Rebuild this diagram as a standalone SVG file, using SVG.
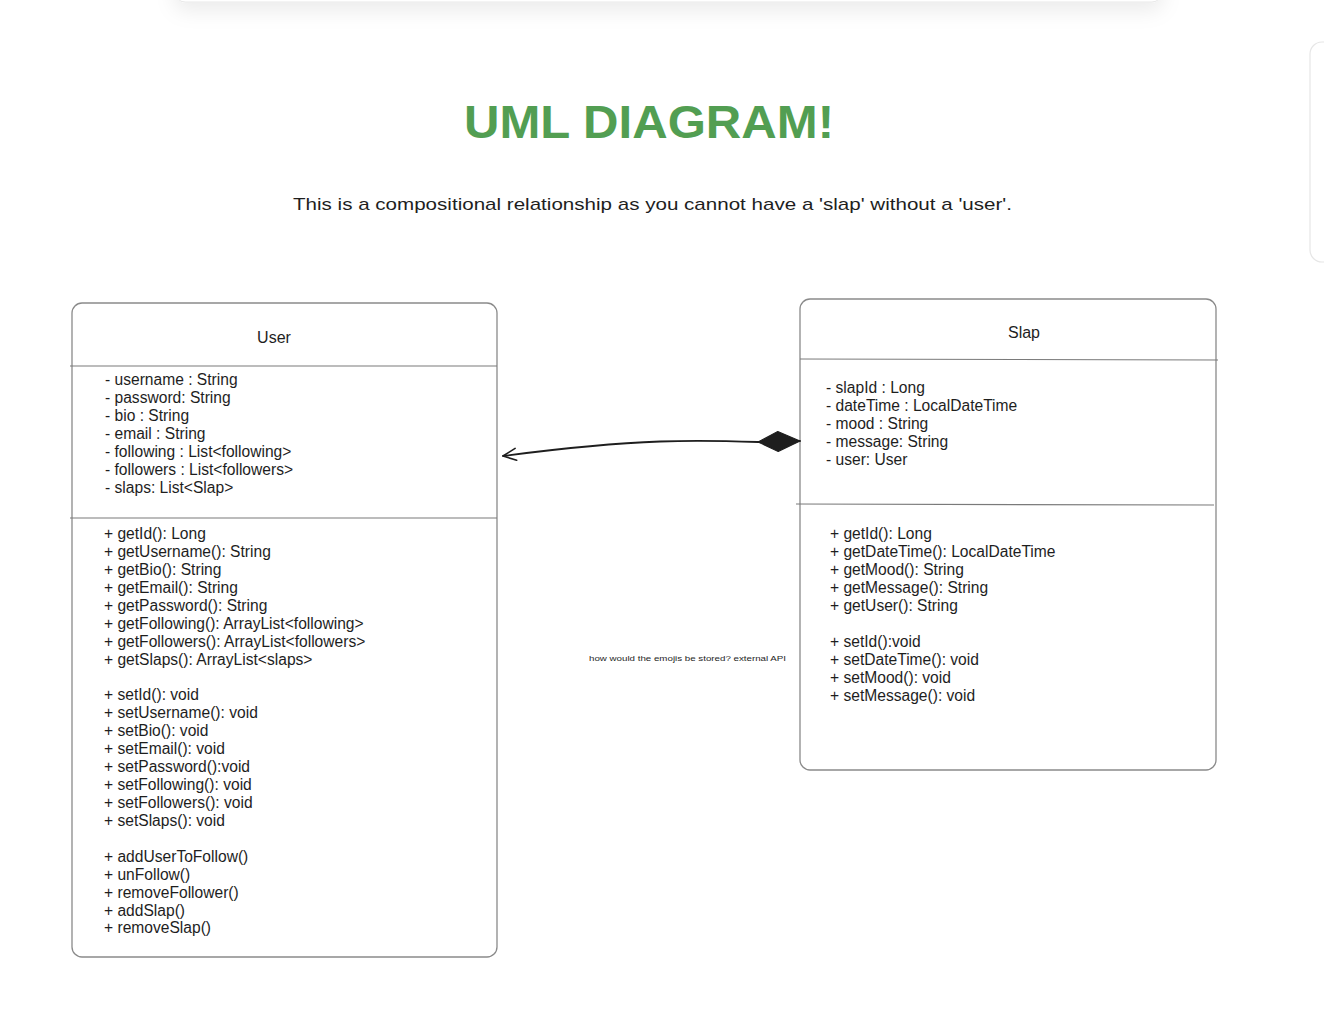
<svg xmlns="http://www.w3.org/2000/svg" width="1324" height="1014" viewBox="0 0 1324 1014">
<defs>
<filter id="sh" x="-10%" y="-100%" width="120%" height="400%">
<feDropShadow dx="0" dy="8" stdDeviation="10" flood-color="#000" flood-opacity="0.08"/>
</filter>
<marker id="open" markerWidth="16" markerHeight="16" refX="14" refY="8" orient="auto" markerUnits="userSpaceOnUse">
<path d="M1 2 L14 8 L1 14" fill="none" stroke="#1e1e1e" stroke-width="1.6" stroke-linecap="round" stroke-linejoin="round"/>
</marker>
<marker id="diamond" markerWidth="46" markerHeight="24" refX="44" refY="12" orient="auto-start-reverse" markerUnits="userSpaceOnUse">
<path d="M2 12 L22 2 L44 12 L22 22 Z" fill="#1e1e1e" stroke="#1e1e1e" stroke-width="1" stroke-linejoin="round"/>
</marker>
</defs>
<style>
.box{fill:#fff;stroke:#8a8a8a;stroke-width:1.3}
.div{stroke:#7a7a7a;stroke-width:1.2;fill:none}
.t{font-family:"Liberation Sans",Arial,sans-serif;font-size:15.6px;fill:#1e1e1e}
.hd{font-family:"Liberation Sans",Arial,sans-serif;font-size:16px;fill:#1e1e1e}
.ttl{font-family:"Liberation Sans Narrow","Liberation Sans",Arial,sans-serif;font-size:46px;font-weight:bold;fill:#529e52}
.sub{font-family:"Liberation Sans Narrow","Liberation Sans",Arial,sans-serif;font-size:17px;fill:#1e1e1e}
.note{font-family:"Liberation Sans",Arial,sans-serif;font-size:8px;fill:#1e1e1e}
</style>
<rect width="1324" height="1014" fill="#ffffff"/>
<g id="top-card">
<rect x="175" y="-30" width="987" height="32" rx="10" fill="#fff" stroke="#e8e8e8" stroke-width="1" filter="url(#sh)"/>
</g>
<g id="side-panel">
<rect x="1310" y="42" width="40" height="220" rx="12" fill="#fff" stroke="#e6e6e6" stroke-width="1.2"/>
</g>
<g id="title">
<text class="ttl" x="464" y="138" textLength="370" lengthAdjust="spacingAndGlyphs">UML DIAGRAM!</text>
</g>
<g id="subtitle">
<text class="sub" x="293" y="210" textLength="719" lengthAdjust="spacingAndGlyphs">This is a compositional relationship as you cannot have a 'slap' without a 'user'.</text>
</g>
<g id="note">
<text class="note" x="589" y="661" textLength="197" lengthAdjust="spacingAndGlyphs">how would the emojis be stored? external API</text>
</g>
<g id="User">
<rect class="box" x="72" y="303" width="425" height="654" rx="10"/>
<line class="div" x1="70" y1="366" x2="497" y2="366"/>
<line class="div" x1="70" y1="518" x2="497" y2="518"/>
<text class="hd" x="274" y="343" text-anchor="middle">User</text>
<text class="t" x="105" y="385">- username : String</text>
<text class="t" x="105" y="403">- password: String</text>
<text class="t" x="105" y="421">- bio : String</text>
<text class="t" x="105" y="439">- email : String</text>
<text class="t" x="105" y="457">- following : List&lt;following&gt;</text>
<text class="t" x="105" y="475">- followers : List&lt;followers&gt;</text>
<text class="t" x="105" y="493">- slaps: List&lt;Slap&gt;</text>
<text class="t" x="104" y="539">+ getId(): Long</text>
<text class="t" x="104" y="557">+ getUsername(): String</text>
<text class="t" x="104" y="575">+ getBio(): String</text>
<text class="t" x="104" y="593">+ getEmail(): String</text>
<text class="t" x="104" y="611">+ getPassword(): String</text>
<text class="t" x="104" y="629">+ getFollowing(): ArrayList&lt;following&gt;</text>
<text class="t" x="104" y="647">+ getFollowers(): ArrayList&lt;followers&gt;</text>
<text class="t" x="104" y="665">+ getSlaps(): ArrayList&lt;slaps&gt;</text>
<text class="t" x="104" y="700">+ setId(): void</text>
<text class="t" x="104" y="718">+ setUsername(): void</text>
<text class="t" x="104" y="736">+ setBio(): void</text>
<text class="t" x="104" y="754">+ setEmail(): void</text>
<text class="t" x="104" y="772">+ setPassword():void</text>
<text class="t" x="104" y="790">+ setFollowing(): void</text>
<text class="t" x="104" y="808">+ setFollowers(): void</text>
<text class="t" x="104" y="826">+ setSlaps(): void</text>
<text class="t" x="104" y="862">+ addUserToFollow()</text>
<text class="t" x="104" y="880">+ unFollow()</text>
<text class="t" x="104" y="898">+ removeFollower()</text>
<text class="t" x="104" y="916">+ addSlap()</text>
<text class="t" x="104" y="933">+ removeSlap()</text>
</g>
<g id="Slap">
<rect class="box" x="800" y="299" width="416" height="471" rx="10"/>
<line class="div" x1="800" y1="359" x2="1218" y2="360"/>
<line class="div" x1="796" y1="504" x2="1214" y2="505"/>
<text class="hd" x="1024" y="338" text-anchor="middle">Slap</text>
<text class="t" x="826" y="393">- slapId : Long</text>
<text class="t" x="826" y="411">- dateTime : LocalDateTime</text>
<text class="t" x="826" y="429">- mood : String</text>
<text class="t" x="826" y="447">- message: String</text>
<text class="t" x="826" y="465">- user: User</text>
<text class="t" x="830" y="539">+ getId(): Long</text>
<text class="t" x="830" y="557">+ getDateTime(): LocalDateTime</text>
<text class="t" x="830" y="575">+ getMood(): String</text>
<text class="t" x="830" y="593">+ getMessage(): String</text>
<text class="t" x="830" y="611">+ getUser(): String</text>
<text class="t" x="830" y="647">+ setId():void</text>
<text class="t" x="830" y="665">+ setDateTime(): void</text>
<text class="t" x="830" y="683">+ setMood(): void</text>
<text class="t" x="830" y="701">+ setMessage(): void</text>
</g>
<g id="connectors">
<path d="M800 441 L758 442 C700 440 640 438 503 456" fill="none" stroke="#1e1e1e" stroke-width="1.8" stroke-linecap="round" marker-start="url(#diamond)" marker-end="url(#open)"/>
</g>
</svg>
